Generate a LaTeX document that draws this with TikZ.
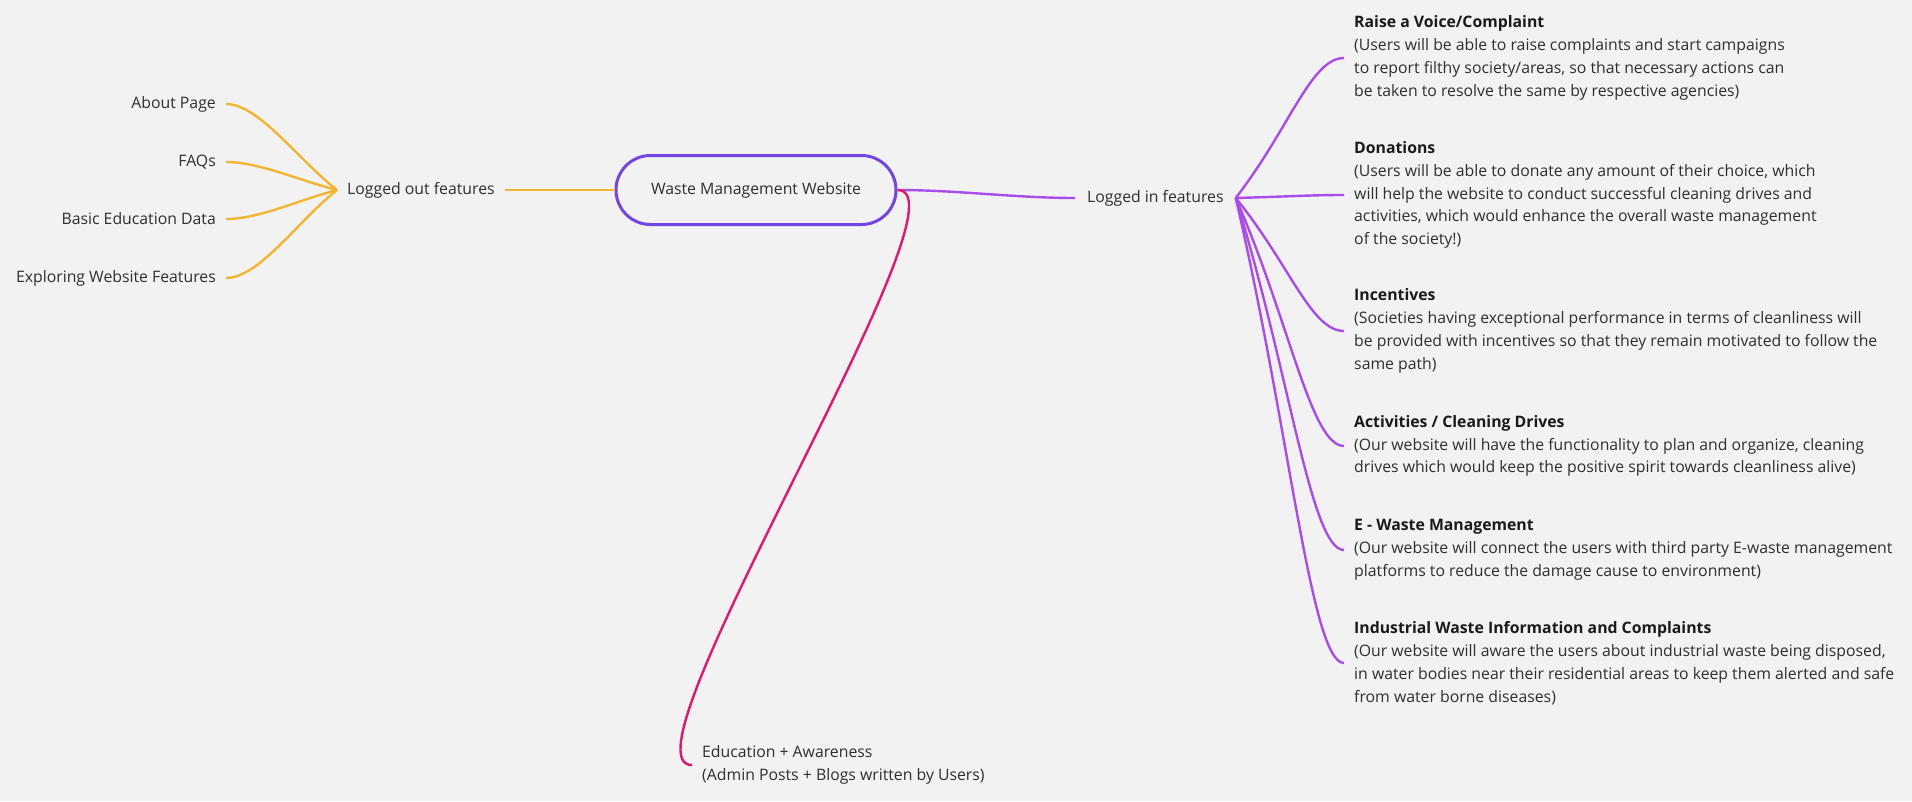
\documentclass[tikz,border=0pt]{standalone}
\usepackage{fontspec}
\setmainfont{Open Sans}
\usetikzlibrary{calc}
\definecolor{bg}{HTML}{F2F2F2}
\definecolor{txt}{HTML}{2E2E2E}
\definecolor{ttl}{HTML}{1A1A1A}
\definecolor{yel}{HTML}{F3B431}
\definecolor{pur}{HTML}{A94CEB}
\definecolor{boxc}{HTML}{7346E4}
\definecolor{pinkc}{HTML}{E2176F}
\begin{document}
\begin{tikzpicture}[x=1pt,y=-1pt,
  lbl/.style={inner xsep=10pt, inner ysep=2pt, text=txt, font=\fontsize{15.8}{22.8}\selectfont},
  desc/.style={lbl, align=left},
  yline/.style={draw=yel, line width=2.4pt},
  pline/.style={draw=pur, line width=2.4pt},
  kline/.style={draw=pinkc, line width=2.4pt},
  hub/.style={draw=boxc, line width=3pt, rounded corners=34.5pt, minimum width=280pt, minimum height=69pt, inner sep=0pt, text=txt, font=\fontsize{15.8}{22.8}\selectfont}
]
\useasboundingbox (0,0) rectangle (1912,801);
\fill[bg] (0,0) rectangle (1912,801);

% central
\node[hub] (hub) at (756,190) {Waste Management Website};

% logged out
\node[lbl, anchor=west] (lout) at (337,190) {Logged out features};
\node[lbl, anchor=east] (about) at (226,104) {About Page};
\node[lbl, anchor=east] (faq) at (226,162) {FAQs};
\node[lbl, anchor=east] (basic) at (226,219) {Basic Education Data};
\node[lbl, anchor=east] (explore) at (226,278) {Exploring Website Features};

% logged in
\node[lbl, inner xsep=12pt, anchor=west] (lin) at (1075,198) {Logged in features};
\node[desc, anchor=west] (raise) at (1344,58) {\textcolor{ttl}{\bfseries Raise a Voice/Complaint}\\(Users will be able to raise complaints and start campaigns\\to report filthy society/areas, so that necessary actions can\\be taken to resolve the same by respective agencies)};
\node[desc, anchor=west] (don) at (1344,195) {\textcolor{ttl}{\bfseries Donations}\\(Users will be able to donate any amount of their choice, which\\will help the website to conduct successful cleaning drives and\\activities, which would enhance the overall waste management\\of the society!)};
\node[desc, anchor=west] (inc) at (1344,331) {\textcolor{ttl}{\bfseries Incentives}\\(Societies having exceptional performance in terms of cleanliness will\\be provided with incentives so that they remain motivated to follow the\\same path)};
\node[desc, anchor=west] (act) at (1344,446) {\textcolor{ttl}{\bfseries Activities / Cleaning Drives}\\(Our website will have the functionality to plan and organize, cleaning\\drives which would keep the positive spirit towards cleanliness alive)};
\node[desc, anchor=west] (ew) at (1344,550) {\textcolor{ttl}{\bfseries E - Waste Management}\\(Our website will connect the users with third party E-waste management\\platforms to reduce the damage cause to environment)};
\node[desc, anchor=west] (ind) at (1344,663) {\textcolor{ttl}{\bfseries Industrial Waste Information and Complaints}\\(Our website will aware the users about industrial waste being disposed,\\in water bodies near their residential areas to keep them alerted and safe\\from water borne diseases)};

% education
\node[desc, anchor=west] (edu) at (692,765) {Education + Awareness\\(Admin Posts + Blogs written by Users)};

% connectors: yellow
\draw[yline] (lout.east) -- (hub.west);
\foreach \n in {about,faq,basic,explore}{
  \draw[yline] (lout.west) .. controls ($(lout.west)!0.35!(\n.east)$) and ($(\n.east)+(33,0)$) .. (\n.east);
}
% purple
\draw[pline] (hub.east) .. controls ($(hub.east)+(60,0)$) and ($(lin.west)+(-60,0)$) .. (lin.west);
\foreach \n in {raise,don,inc,act,ew,ind}{
  \draw[pline] (lin.east) .. controls ($(lin.east)!0.5!(\n.west)$) and ($(\n.west)+(-33,0)$) .. (\n.west);
}
% pink
\draw[kline] (hub.east) .. controls ($(hub.east)+(80,0)$) and ($(edu.west)+(-80,0)$) .. (edu.west);
\end{tikzpicture}
\end{document}
